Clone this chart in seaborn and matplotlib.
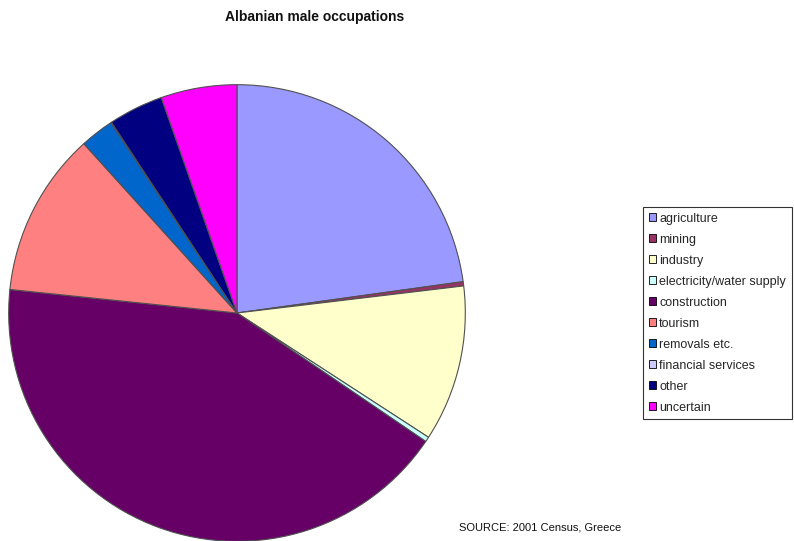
import matplotlib
matplotlib.use("Agg")
import matplotlib.pyplot as plt
from matplotlib.patches import Patch
import seaborn as sns

categories = ["agriculture", "mining", "industry", "electricity/water supply",
              "construction", "tourism", "removals etc.", "financial services",
              "other", "uncertain"]
values = [22.9, 0.3, 11.1, 0.35, 42.3, 11.7, 2.4, 0.05, 3.9, 5.4]
colors = ["#9999FF", "#993366", "#FFFFCC", "#CCFFFF", "#660066",
          "#FF8080", "#0066CC", "#CCCCFF", "#000080", "#FF00FF"]

sns.set_theme(style="white")
plt.rcParams['font.family'] = ['Liberation Sans', 'DejaVu Sans']
palette = sns.color_palette(colors)

W, H = 794, 541
fig = plt.figure(figsize=(W / 100, H / 100), dpi=100)
cx, cy, r = 237, 313, 229
ax = fig.add_axes([(cx - r) / W, (H - cy - r) / H, 2 * r / W, 2 * r / H])
ax.pie(values, colors=palette, startangle=90, counterclock=False, radius=1,
       wedgeprops=dict(edgecolor="#505050", linewidth=0.8))
ax.set_xlim(-1.003, 1.003)
ax.set_ylim(-1.003, 1.003)
ax.set_aspect("equal")
ax.axis("off")

fig.text(315 / W, 1 - 17 / H, "Albanian male occupations", ha="center", va="center",
         fontsize=10, fontweight="bold", color="#111111")
fig.text(459 / W, 1 - 527 / H, "SOURCE: 2001 Census, Greece", ha="left", va="center",
         fontsize=8, color="#111111")

handles = [Patch(facecolor=c, edgecolor="black", linewidth=0.6) for c in palette]
leg = fig.legend(handles, categories, loc="upper left",
                 bbox_to_anchor=(643 / W, 1 - 207 / H), fontsize=9,
                 handlelength=0.55, handleheight=0.55, handletextpad=0.3,
                 labelspacing=0.72, borderpad=0.45, borderaxespad=0,
                 fancybox=False, frameon=True)
leg.get_frame().set_edgecolor("black")
leg.get_frame().set_linewidth(0.8)

fig.savefig("out.png", dpi=100)
